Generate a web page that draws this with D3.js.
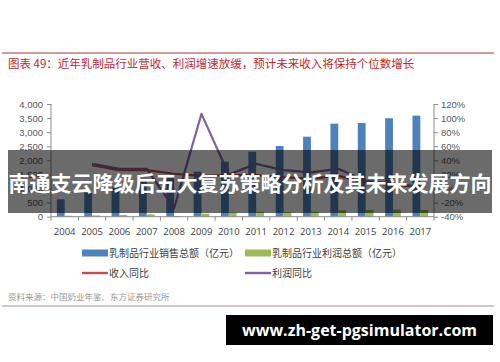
<!DOCTYPE html>
<html><head><meta charset="utf-8">
<script src="https://cdn.jsdelivr.net/npm/d3@7"></script>
<style>
body{margin:0;background:#fff;}
svg{display:block;font-family:"Open Sans","Noto Sans CJK SC",sans-serif;}
</style></head>
<body><svg id="c" width="500" height="362"></svg>
<script>
const years = ["2004","2005","2006","2007","2008","2009","2010","2011","2012","2013","2014","2015","2016","2017"];
const salesTotal = [617, 855, 1040, 1300, 1430, 1597, 1953, 2308, 2510, 2840, 3302, 3326, 3493, 3586];
const profitTotal = [35, 45, 60, 85, 25, 110, 150, 165, 160, 180, 230, 240, 255, 240];
const revenueYoY = [null, 33, 26, 26, 21, 18, 19, 19, 16, 14, 18, 9, 5, 3];
const profitYoY = [null, 35, 28, 28, -28, 106, 20, 35, 26, 23, 28, 11, 7, 2];
const leftTicks = [0,500,1000,1500,2000,2500,3000,3500,4000];
const rightTicks = [-40,-20,0,20,40,60,80,100,120];
const seriesNames = ["乳制品行业销售总额（亿元）","乳制品行业利润总额（亿元）","收入同比","利润同比"];
const colors = ["#4F81BD","#9BBB59","#C0504D","#8064A2"];
const titleText = "图表 49：近年乳制品行业营收、利润增速放缓，预计未来收入将保持个位数增长";
const sourceText = "资料来源：中国奶业年鉴、东方证券研究所";
const overlayText = "南通支云降级后五大复苏策略分析及其未来发展方向";
const watermark = "www.zh-get-pgsimulator.com";

const svg = d3.select("#c");
// header
svg.append("line").attr("x1",2).attr("x2",494).attr("y1",53).attr("y2",53).attr("stroke","#9b3b3b").attr("stroke-width",1);
svg.append("text").attr("x",8).attr("y",68).attr("font-size",11.5).attr("fill","#c0282d")
  .attr("font-family","'Noto Sans CJK SC',sans-serif").text(titleText);

const x = d3.scaleBand().domain(years).range([51,434]).padding(0);
const yL = d3.scaleLinear().domain([0,4000]).range([216.7,104]);
const yR = d3.scaleLinear().domain([-40,120]).range([216.7,104]);
const bw = x.bandwidth(), barW = bw/3.5, gap = barW*0.75;
const axisColor = "#8c8c8c", labelColor = "#595959";

// left axis
const gL = svg.append("g").attr("transform","translate(51,0)")
  .call(d3.axisLeft(yL).tickValues(leftTicks).tickFormat(d3.format(",")).tickSize(4).tickSizeOuter(0));
gL.selectAll("path,line").attr("stroke",axisColor);
gL.selectAll("text").attr("fill",labelColor).attr("font-size",9.5).attr("x",-8);
gL.select(".domain").remove();
gL.append("line").attr("y1",yL(0)).attr("y2",yL(4000)).attr("stroke",axisColor);

// right axis
const gR = svg.append("g").attr("transform","translate(434,0)")
  .call(d3.axisRight(yR).tickValues(rightTicks).tickFormat(d=>d+"%").tickSize(4).tickSizeOuter(0));
gR.selectAll("path,line").attr("stroke",axisColor);
gR.selectAll("text").attr("fill",labelColor).attr("font-size",9.5).attr("x",7);
gR.select(".domain").remove();
gR.append("line").attr("y1",yR(-40)).attr("y2",yR(120)).attr("stroke",axisColor);

// bars
svg.append("g").selectAll("rect").data(years).join("rect")
  .attr("x",(d)=>x(d)+gap).attr("width",barW)
  .attr("y",(d,i)=>yL(salesTotal[i])).attr("height",(d,i)=>yL(0)-yL(salesTotal[i]))
  .attr("fill",colors[0]);
svg.append("g").selectAll("rect").data(years).join("rect")
  .attr("x",(d)=>x(d)+gap+barW).attr("width",barW)
  .attr("y",(d,i)=>yL(profitTotal[i])).attr("height",(d,i)=>yL(0)-yL(profitTotal[i]))
  .attr("fill",colors[1]);

// x axis
const gX = svg.append("g").attr("transform",`translate(0,${yL(0)})`);
gX.append("line").attr("x1",51).attr("x2",434).attr("stroke",axisColor);
gX.selectAll("line.t").data(d3.range(years.length+1)).join("line").attr("class","t")
  .attr("x1",i=>51+i*bw).attr("x2",i=>51+i*bw).attr("y1",0).attr("y2",4).attr("stroke",axisColor);
gX.selectAll("text").data(years).join("text")
  .attr("x",d=>x(d)+bw/2).attr("y",18).attr("text-anchor","middle")
  .attr("font-size",9.5).attr("fill","#404040").text(d=>d);

// lines
const lineGen = (yScale)=>d3.line().defined(d=>d.v!==null).x(d=>x(d.y)+bw/2).y(d=>yScale(d.v));
[[revenueYoY,colors[2]],[profitYoY,colors[3]]].forEach(([arr,c])=>{
  svg.append("path").datum(years.map((y,i)=>({y,v:arr[i]})))
    .attr("d",lineGen(yR)).attr("fill","none").attr("stroke",c).attr("stroke-width",2.2)
    .attr("stroke-linejoin","round");
});

// legend
const leg = [
  {n:seriesNames[0],c:colors[0],t:"bar",x:82,y:253},
  {n:seriesNames[1],c:colors[1],t:"bar",x:245,y:253},
  {n:seriesNames[2],c:colors[2],t:"line",x:82,y:273},
  {n:seriesNames[3],c:colors[3],t:"line",x:245,y:273}];
const lg = svg.append("g").selectAll("g").data(leg).join("g").attr("transform",d=>`translate(${d.x},${d.y})`);
lg.append("rect").attr("x",0).attr("width",26).attr("y",d=>d.t==="bar"?-3.5:-1.2).attr("height",d=>d.t==="bar"?7:2.4).attr("fill",d=>d.c);
lg.append("text").attr("x",27).attr("y",3.8).attr("font-size",10).attr("fill","#404040")
  .attr("font-family","'Noto Sans CJK SC',sans-serif").text(d=>d.n);

// source
svg.append("text").attr("x",8).attr("y",300).attr("font-size",8.5).attr("fill","#999")
  .attr("font-family","'Noto Sans CJK SC',sans-serif").text(sourceText);
svg.append("line").attr("x1",2).attr("x2",494).attr("y1",306).attr("y2",306).attr("stroke","#b98a8a").attr("stroke-width",1);

// overlay banner
svg.append("rect").attr("x",8).attr("y",150).attr("width",484).attr("height",63).attr("fill","#000").attr("opacity",0.58);
svg.append("text").attr("x",250).attr("y",191).attr("text-anchor","middle").attr("font-size",21)
  .attr("font-weight","bold").attr("fill","#fff").attr("font-family","'Noto Sans CJK SC',sans-serif").text(overlayText);

// watermark box
svg.append("rect").attr("x",226).attr("y",315).attr("width",267).attr("height",30).attr("fill","#000");
svg.append("text").attr("x",359.5).attr("y",336).attr("text-anchor","middle").attr("font-size",16)
  .attr("font-weight","bold").attr("fill","#fff").attr("font-family","'Open Sans',sans-serif").text(watermark);
</script></body></html>
